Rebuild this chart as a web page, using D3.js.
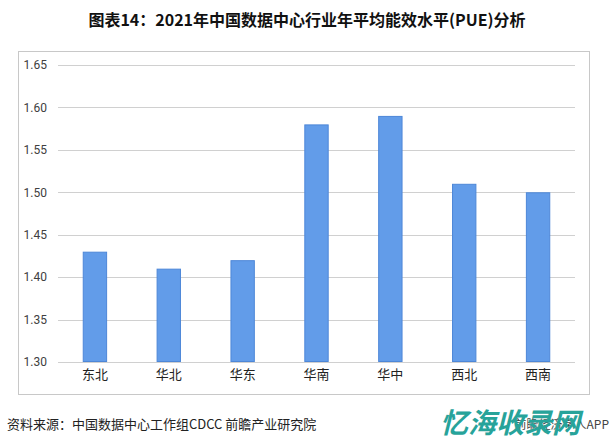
<!DOCTYPE html>
<html>
<head>
<meta charset="utf-8">
<script src="https://cdn.jsdelivr.net/npm/d3@7"></script>
<style>
  body { margin: 0; background: #fff; }
  text { font-family: "Noto Sans CJK SC", "Microsoft YaHei", sans-serif; }
</style>
</head>
<body>
<div id="chart"></div>
<script>
var regions = ["东北", "华北", "华东", "华南", "华中", "西北", "西南"];
var pue = [1.43, 1.41, 1.42, 1.58, 1.59, 1.51, 1.50];
var yTicks = [1.30, 1.35, 1.40, 1.45, 1.50, 1.55, 1.60, 1.65];

var w = 614, h = 447;
var svg = d3.select("#chart").append("svg")
  .attr("width", w)
  .attr("height", h);

// title
svg.append("text")
  .attr("x", 307)
  .attr("y", 26)
  .attr("text-anchor", "middle")
  .style("font-size", "16px")
  .style("font-weight", "bold")
  .style("fill", "#111")
  .text("图表14：2021年中国数据中心行业年平均能效水平(PUE)分析");

// frame
svg.append("rect")
  .attr("x", 18.5).attr("y", 51.5)
  .attr("width", 571).attr("height", 343)
  .style("fill", "none")
  .style("stroke", "#c8c8c8");

var x = d3.scaleBand()
  .domain(regions)
  .range([58, 575])
  .paddingInner(0.67)
  .paddingOuter(0.335);

var y = d3.scaleLinear()
  .domain([1.30, 1.65])
  .range([362, 65]);

// grid
svg.append("g")
  .selectAll("line")
  .data(yTicks)
  .enter()
  .append("line")
  .attr("x1", 58)
  .attr("x2", 575)
  .attr("y1", function(d) { return Math.round(y(d)) + 0.5; })
  .attr("y2", function(d) { return Math.round(y(d)) + 0.5; })
  .style("stroke", "#d0d0d0");

// y axis labels
var yAxis = d3.axisLeft(y)
  .tickValues(yTicks)
  .tickFormat(d3.format(".2f"))
  .tickSize(0)
  .tickPadding(0);

svg.append("g")
  .attr("transform", "translate(47,0)")
  .call(yAxis)
  .call(function(g) { g.select(".domain").remove(); })
  .selectAll("text")
  .style("font-size", "12px")
  .style("fill", "#404040")
  .style("font-family", "Roboto, 'Noto Sans', sans-serif");

// bars
svg.append("g")
  .selectAll("rect")
  .data(regions)
  .enter()
  .append("rect")
  .attr("x", function(d) { return x(d) + 0.5; })
  .attr("y", function(d, i) { return y(pue[i]) + 0.5; })
  .attr("width", x.bandwidth() - 1)
  .attr("height", function(d, i) { return y(1.30) - y(pue[i]) - 1; })
  .style("fill", "#629ce9")
  .style("stroke", "#4d87d8");

// x axis
var xAxis = d3.axisBottom(x).tickSize(0).tickPadding(0);
svg.append("g")
  .attr("transform", "translate(0,370)")
  .call(xAxis)
  .call(function(g) { g.select(".domain").remove(); })
  .selectAll("text")
  .style("font-size", "13px")
  .style("fill", "#222")
  .style("font-family", "'Noto Sans CJK SC', sans-serif");

// source
svg.append("text")
  .attr("x", 7)
  .attr("y", 429)
  .style("font-size", "13px")
  .style("fill", "#222")
  .text("资料来源：中国数据中心工作组CDCC 前瞻产业研究院");

svg.append("text")
  .attr("x", 609)
  .attr("y", 429)
  .attr("text-anchor", "end")
  .style("font-size", "12px")
  .style("fill", "#444")
  .text("前瞻经济学人APP");

svg.append("text")
  .attr("x", 440)
  .attr("y", 433)
  .style("font-size", "28px")
  .style("font-weight", "bold")
  .style("font-style", "italic")
  .style("fill", "#27a39a")
  .text("忆海收录网");
</script>
</body>
</html>
